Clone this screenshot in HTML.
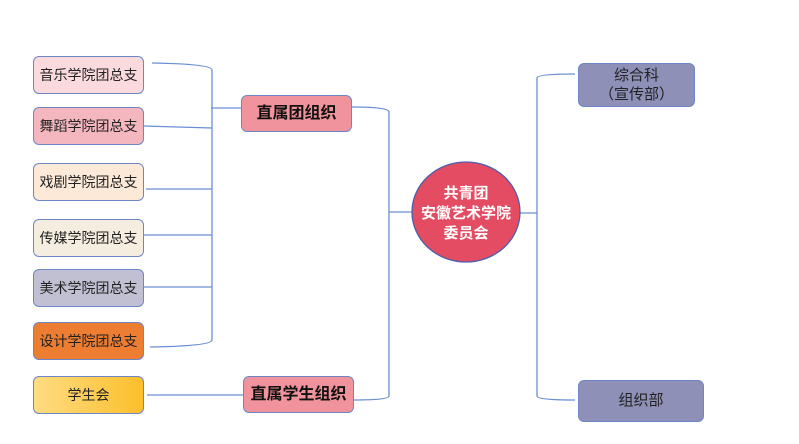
<!DOCTYPE html>
<html><head><meta charset="utf-8"><style>
body{margin:0;width:799px;height:444px;background:#fff;position:relative;overflow:hidden;font-family:"Liberation Sans","Noto Sans CJK SC",sans-serif}
.b{position:absolute;box-sizing:border-box;border:1.5px solid #6d86c6;border-radius:6px;display:flex;align-items:center;justify-content:center;font-size:14px;color:#222;text-align:center;line-height:18px}
svg{position:absolute;left:0;top:0}
</style></head><body>
<svg width="799" height="444"><g fill="none" stroke="#6a8fd6" stroke-width="1.3">
<path d="M152 63 Q212 64 212 70 L212 340 Q212 346 150 347"/>
<path d="M144 126 L212 128"/><path d="M146 189 L212 189"/><path d="M144 235 L212 235"/><path d="M144 287 L212 287"/>
<path d="M211 108 L241 108"/>
<path d="M352 107 Q389 107 389 112 L389 396 Q389 400 354 400"/>
<path d="M147 395 L243 395"/>
<path d="M389 212 L412 212"/><path d="M520 213 L537 213"/>
<path d="M575 74 Q537 74 537 78 L537 396 Q537 400 575 400"/>
</g>
<ellipse cx="466" cy="212" rx="54" ry="50" fill="#e34c62" stroke="#4a5fa8" stroke-width="1.3"/>
<text x="466" y="198" fill="#fff" font-weight="bold" font-size="15" text-anchor="middle" font-family="Liberation Sans,Noto Sans CJK SC,sans-serif">共青团</text>
<text x="466" y="218" fill="#fff" font-weight="bold" font-size="15" text-anchor="middle" font-family="Liberation Sans,Noto Sans CJK SC,sans-serif">安徽艺术学院</text>
<text x="466" y="238" fill="#fff" font-weight="bold" font-size="15" text-anchor="middle" font-family="Liberation Sans,Noto Sans CJK SC,sans-serif">委员会</text>
</svg>
<div class="b" style="left:33px;top:56px;width:111px;height:38px;background:#fadadd">音乐学院团总支</div>
<div class="b" style="left:33px;top:107px;width:111px;height:38px;background:#f4b6bf">舞蹈学院团总支</div>
<div class="b" style="left:33px;top:163px;width:111px;height:38px;background:#fce9d8">戏剧学院团总支</div>
<div class="b" style="left:33px;top:219px;width:111px;height:38px;background:#f6ede1">传媒学院团总支</div>
<div class="b" style="left:33px;top:269px;width:111px;height:38px;background:#c1c0d3">美术学院团总支</div>
<div class="b" style="left:33px;top:322px;width:111px;height:38px;background:#ed7d31">设计学院团总支</div>
<div class="b" style="left:33px;top:376px;width:111px;height:38px;background:linear-gradient(90deg,#fedc82,#fcbf2c)">学生会</div>
<div class="b" style="left:241px;top:95px;width:111px;height:37px;background:#f0939c;font-weight:bold;font-size:16px;color:#111">直属团组织</div>
<div class="b" style="left:243px;top:376px;width:111px;height:37px;background:#f0939c;font-weight:bold;font-size:16px;color:#111">直属学生组织</div>
<div class="b" style="left:578px;top:63px;width:117px;height:44px;background:#8e90b8;font-size:15px;line-height:19px">综合科<br>（宣传部）</div>
<div class="b" style="left:578px;top:380px;width:126px;height:42px;background:#8e90b8;font-size:15px">组织部</div>
</body></html>
